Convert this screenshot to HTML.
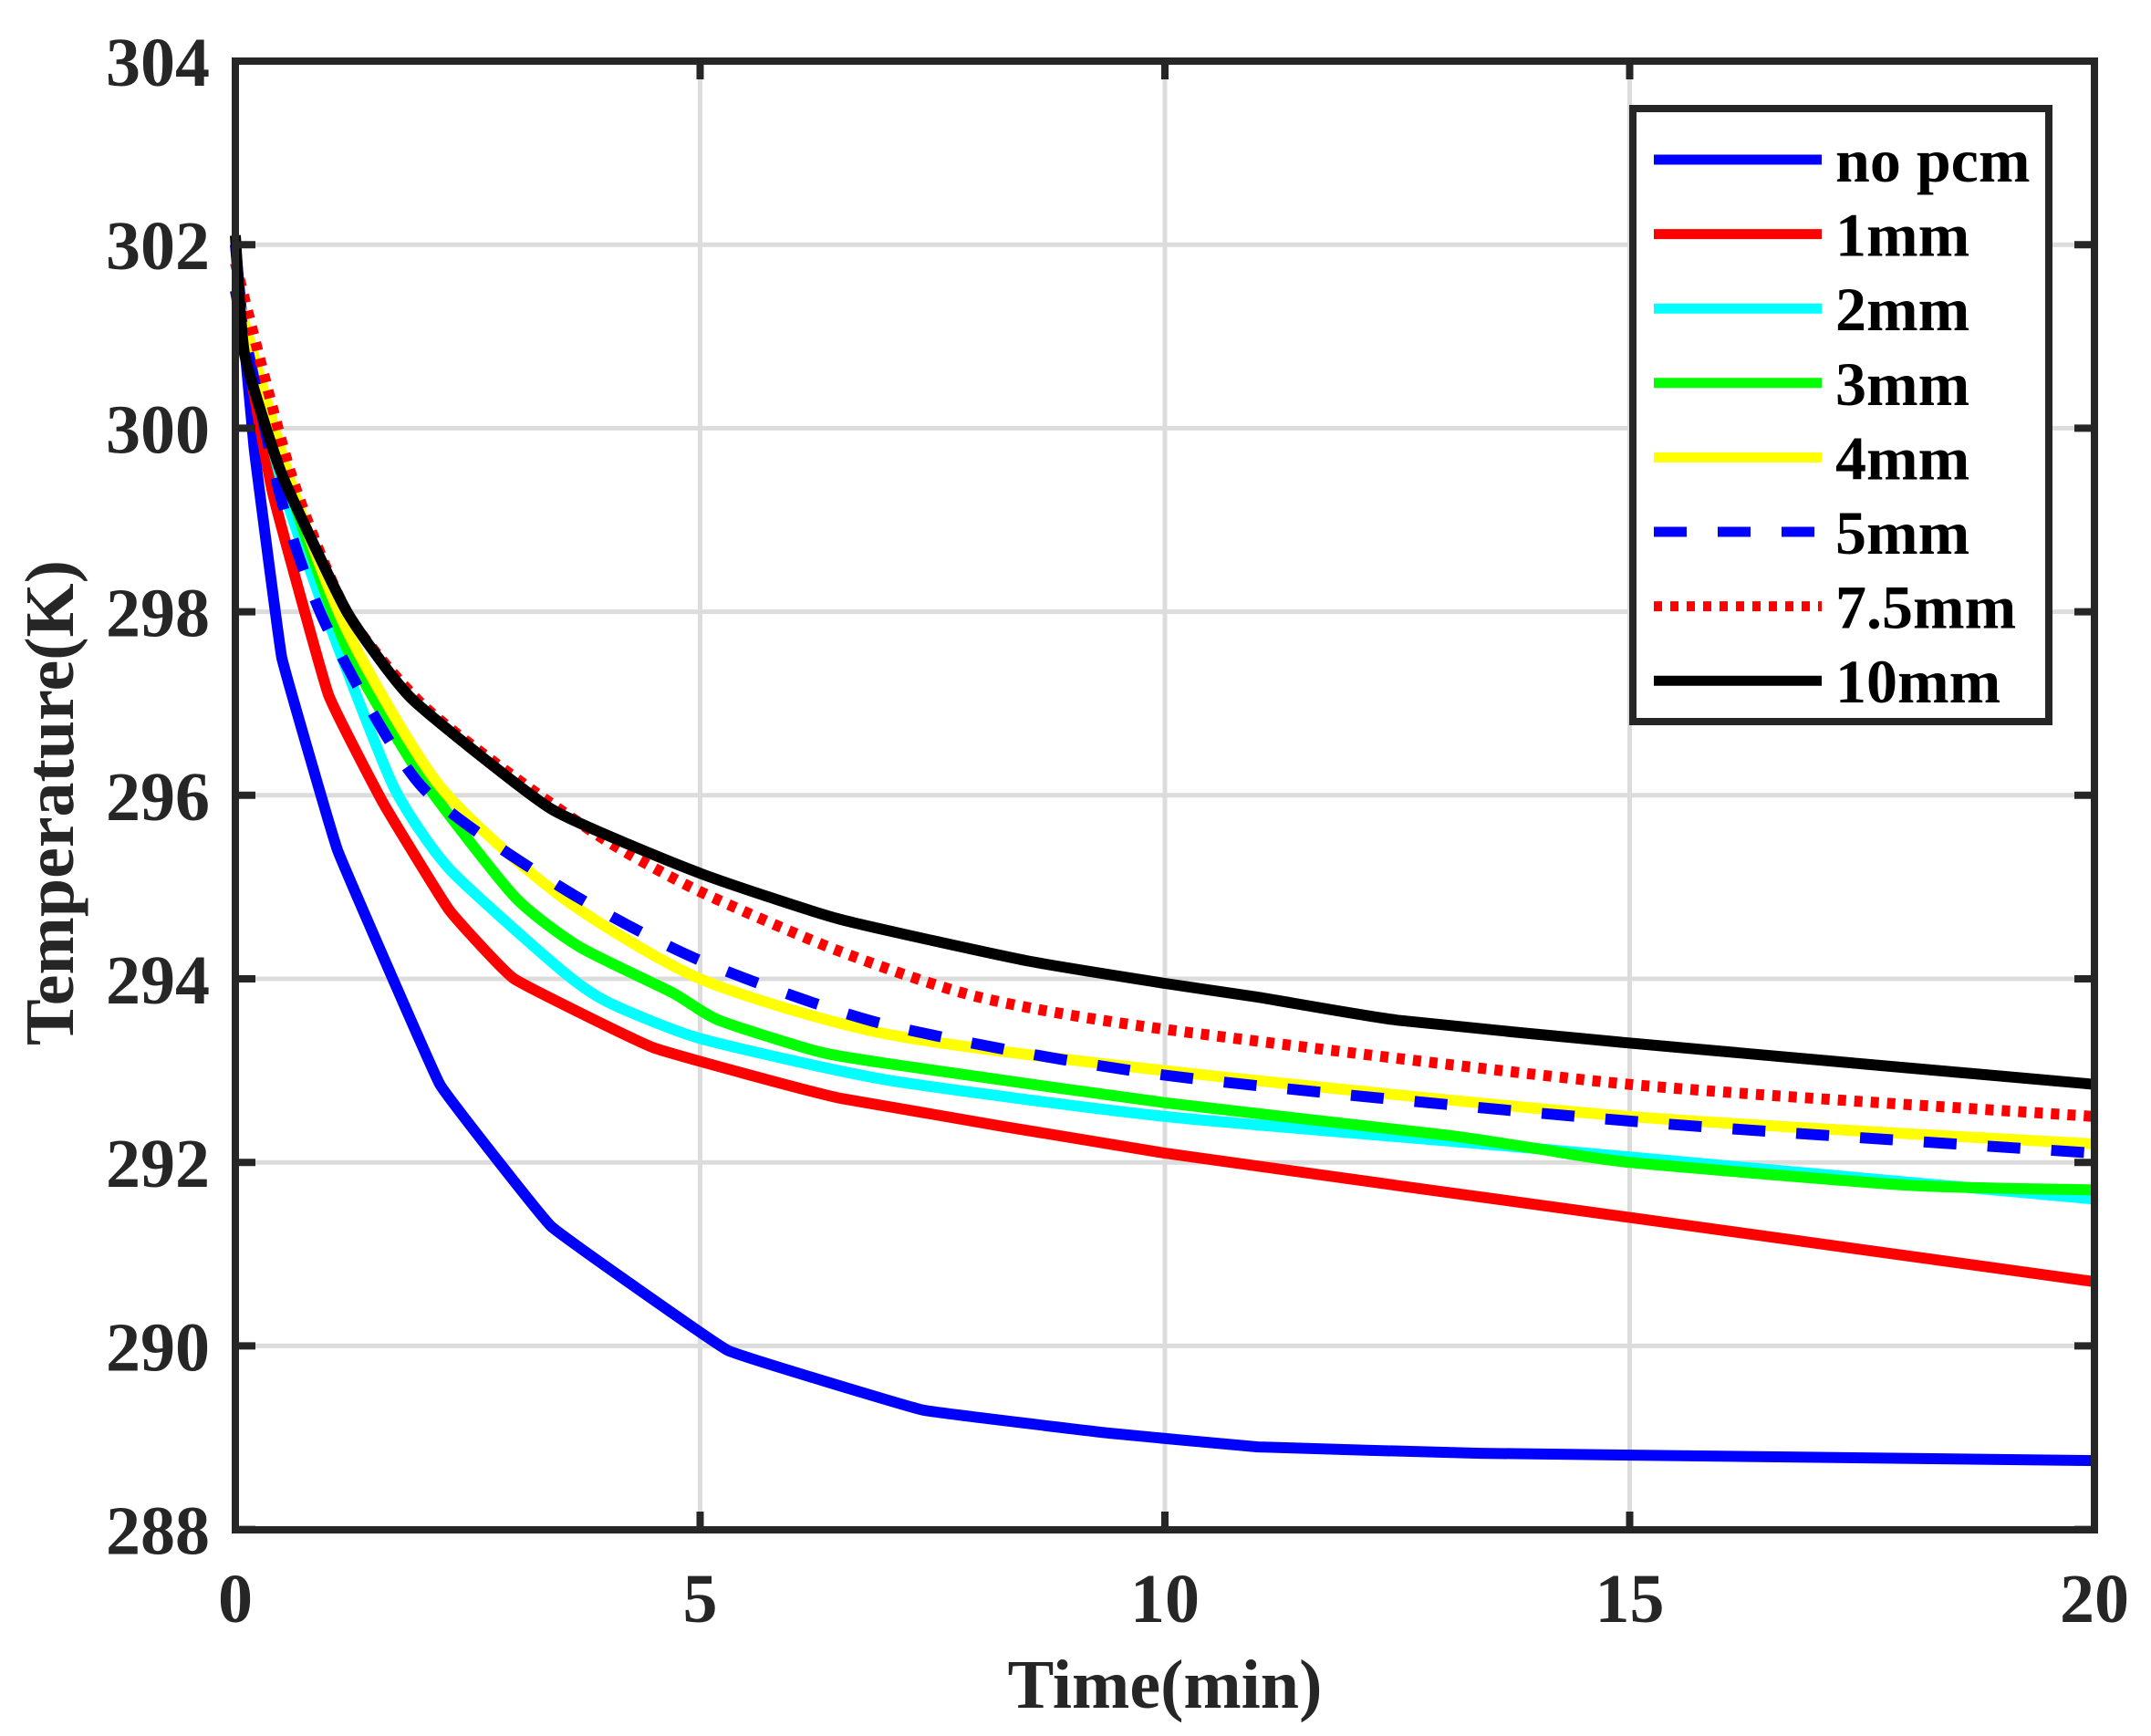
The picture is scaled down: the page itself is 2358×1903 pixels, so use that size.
<!DOCTYPE html>
<html><head><style>body{margin:0;background:#fff}svg{display:block}text{font-family:"Liberation Serif",serif;font-weight:bold;fill:#262626}</style></head>
<body>
<svg id="s" width="2358" height="1903" viewBox="0 0 2358 1903" xmlns="http://www.w3.org/2000/svg">
<rect width="2358" height="1903" fill="#fff"/>
<g id="grid" stroke="#dcdcdc" stroke-width="5"></g>
<g id="data" fill="none" stroke-width="12" stroke-linejoin="round"></g>
<g id="axes" stroke="#262626" stroke-width="8" fill="none"></g>
<g id="labels" font-size="76"></g>
<text x="1277" y="1872" font-size="76" text-anchor="middle">Time(min)</text>
<text transform="translate(80,880) rotate(-90)" font-size="76" text-anchor="middle">Temperature(K)</text>
<rect x="1790" y="119" width="456" height="672" fill="#fff" stroke="#262626" stroke-width="8"/>
<g id="leg"></g>
</svg>
<script>
const X=t=>258+t*101.9, Y=T=>67+(304-T)*100.6;
const ns="http://www.w3.org/2000/svg";
function el(p,tag,a,txt){const e=document.createElementNS(ns,tag);for(const k in a)e.setAttribute(k,a[k]);if(txt!=null)e.textContent=txt;document.getElementById(p).appendChild(e);}
for(let t=5;t<20;t+=5)el("grid","line",{x1:X(t),y1:67,x2:X(t),y2:1677});
for(let T=290;T<304;T+=2)el("grid","line",{x1:258,y1:Y(T),x2:2296,y2:Y(T)});
for(let t=0;t<=20;t+=5){el("axes","line",{x1:X(t),y1:1677,x2:X(t),y2:1657});el("axes","line",{x1:X(t),y1:67,x2:X(t),y2:87});
 el("labels","text",{x:X(t),y:1778,"text-anchor":"middle"},t);}
for(let T=288;T<=304;T+=2){el("axes","line",{x1:258,y1:Y(T),x2:280,y2:Y(T)});el("axes","line",{x1:2296,y1:Y(T),x2:2274,y2:Y(T)});
 el("labels","text",{x:230,y:Y(T)+27,"text-anchor":"end"},T);}
el("axes","rect",{x:258,y:67,width:2038,height:1610});
function smooth(pts,k){const P=pts.map(p=>[X(p[0]),Y(p[1])]);let d="M"+P[0][0].toFixed(1)+","+P[0][1].toFixed(1);
 for(let i=0;i<P.length-1;i++){const p0=P[Math.max(0,i-1)],p1=P[i],p2=P[i+1],p3=P[Math.min(P.length-1,i+2)];
 const c1=[p1[0]+(p2[0]-p0[0])*k,p1[1]+(p2[1]-p0[1])*k],c2=[p2[0]-(p3[0]-p1[0])*k,p2[1]-(p3[1]-p1[1])*k];
 d+="C"+c1.map(v=>v.toFixed(1))+" "+c2.map(v=>v.toFixed(1))+" "+p2.map(v=>v.toFixed(1));}return d;}
const S=[
["#0000ff","",[[0,302],[0.2,299.8],[0.5,297.5],[1.1,295.4],[2.2,292.85],[3.4,291.3],[5.3,289.95],[7.4,289.3],[9.4,289.05],[11,288.9],[13.4,288.83],[20,288.75]],"no pcm",0.03],
["#ff0000","",[[0,301.5],[0.4,299.3],[1,297.1],[1.6,295.9],[2.3,294.75],[3,294.0],[4.5,293.25],[6.5,292.7],[10,292.1],[15,291.4],[20,290.7]],"1mm",0.05],
["#00ffff","",[[0,301.5],[0.5,299.4],[1,297.9],[1.7,296.1],[2.3,295.2],[3.5,294.1],[4,293.75],[5,293.35],[7,292.9],[10,292.5],[14,292.15],[20,291.6]],"2mm",0.1],
["#00ff00","",[[0,301.5],[0.6,299.3],[1.2,297.6],[2,296.2],[3,294.9],[3.7,294.35],[4.7,293.85],[5.2,293.55],[6.3,293.2],[7.2,293.05],[10,292.65],[13,292.3],[14,292.15],[15,292],[18,291.75],[20,291.7]],"3mm",0.1],
["#ffff00","",[[0,301.5],[0.6,299.4],[1.2,297.8],[2.2,296.1],[3.5,294.9],[5,294],[7,293.4],[10,293],[15,292.5],[20,292.2]],"4mm",0.12],
["#0000ff","36 34",[[0,301.5],[0.5,299.2],[1,297.8],[2,296.1],[3.5,295],[5,294.2],[7,293.5],[10,292.95],[15,292.45],[20,292.1]],"5mm",0.12],
["#ff0000","9 9",[[0,301.8],[0.6,299.5],[1.2,298],[2,297],[3,296.2],[4,295.5],[5,294.95],[6.5,294.3],[8,293.8],[10,293.45],[15,292.85],[20,292.5]],"7.5mm",0.12],
["#000000","",[[0,302.1],[0.1,300.8],[0.5,299.5],[1.2,298],[1.9,297.05],[3.4,295.85],[5,295.15],[6.5,294.65],[8.5,294.2],[10,293.95],[11,293.8],[12.5,293.55],[15,293.3],[20,292.85]],"10mm",0.08]];
S.forEach((s,i)=>{const a={d:smooth(s[2],s[4]),stroke:s[0]};if(s[1])a["stroke-dasharray"]=s[1];el("data","path",a);
 const y=175+i*81.6;const b={x1:1813,y1:y,x2:1997,y2:y,stroke:s[0],"stroke-width":11};if(s[1])b["stroke-dasharray"]=s[1];el("leg","line",b);
 el("leg","text",{x:2012,y:y+24,"font-size":68,style:"fill:#000"},s[3]);});
</script>
</body></html>
